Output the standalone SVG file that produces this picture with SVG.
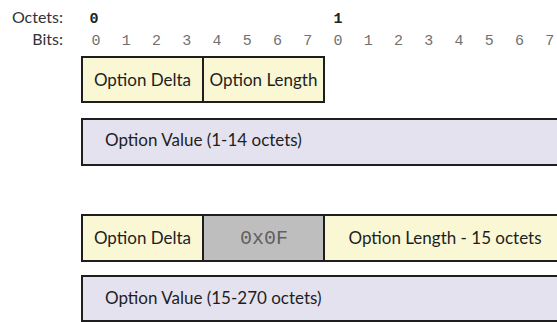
<svg xmlns="http://www.w3.org/2000/svg" width="557" height="322" viewBox="0 0 557 322">
  <style>
    .hdr { font-family: "Lato", "Liberation Sans", sans-serif; font-size: 16px; fill: #333333; text-anchor: end; }
    .oct { font-family: "Liberation Mono", monospace; font-size: 15px; font-weight: bold; fill: #222222; text-anchor: middle; }
    .bit { font-family: "Liberation Mono", monospace; font-size: 15px; fill: #707070; text-anchor: middle; }
    .fld { stroke: #1e1e1e; stroke-width: 2; }
    .hi { fill: #faf7d5; }
    .val { fill: #e5e2ef; }
    .fix { fill: #bfbebf; }
    .lbl { font-family: "Lato", "Liberation Sans", sans-serif; font-size: 17px; fill: #1e1e1e; }
    .mid { text-anchor: middle; }
    .hex { font-family: "Liberation Mono", monospace; font-size: 20px; fill: #606060; text-anchor: middle; }
  </style>

  <!-- ruler: octet and bit numbering -->
  <g id="ruler">
    <text class="hdr" x="63" y="23">Octets:</text>
    <text class="hdr" x="63" y="45">Bits:</text>
    <text class="oct" x="94" y="23">0</text>
    <text class="oct" x="338" y="23">1</text>
    <text class="bit" x="96" y="45">0</text>
    <text class="bit" x="126.25" y="45">1</text>
    <text class="bit" x="156.5" y="45">2</text>
    <text class="bit" x="186.75" y="45">3</text>
    <text class="bit" x="217" y="45">4</text>
    <text class="bit" x="247.25" y="45">5</text>
    <text class="bit" x="277.5" y="45">6</text>
    <text class="bit" x="307.75" y="45">7</text>
    <text class="bit" x="338" y="45">0</text>
    <text class="bit" x="368.25" y="45">1</text>
    <text class="bit" x="398.5" y="45">2</text>
    <text class="bit" x="428.75" y="45">3</text>
    <text class="bit" x="459" y="45">4</text>
    <text class="bit" x="489.25" y="45">5</text>
    <text class="bit" x="519.5" y="45">6</text>
    <text class="bit" x="549.75" y="45">7</text>
  </g>

  <!-- short form: one-byte header followed by the value -->
  <g id="short-delta">
    <rect class="fld hi" x="82" y="57" width="121" height="45"/>
    <text class="lbl mid" x="142.5" y="86">Option Delta</text>
  </g>
  <g id="short-length">
    <rect class="fld hi" x="203" y="57" width="121" height="45"/>
    <text class="lbl mid" x="263.5" y="86">Option Length</text>
  </g>
  <g id="short-value">
    <rect class="fld val" x="82" y="119" width="490" height="46"/>
    <text class="lbl" x="105" y="146">Option Value (1-14 octets)</text>
  </g>

  <!-- long form: length escape 0x0F plus an extended length byte -->
  <g id="long-delta">
    <rect class="fld hi" x="82" y="215" width="121" height="46"/>
    <text class="lbl mid" x="142.5" y="244">Option Delta</text>
  </g>
  <g id="long-escape">
    <rect class="fld fix" x="203" y="215" width="121" height="46"/>
    <text class="hex" x="264" y="244">0x0F</text>
  </g>
  <g id="long-length">
    <rect class="fld hi" x="324" y="215" width="242" height="46"/>
    <text class="lbl mid" x="445" y="244">Option Length - 15 octets</text>
  </g>
  <g id="long-value">
    <rect class="fld val" x="82" y="276" width="490" height="45"/>
    <text class="lbl" x="105" y="304">Option Value (15-270 octets)</text>
  </g>

  <g id="connectors"/>
</svg>
